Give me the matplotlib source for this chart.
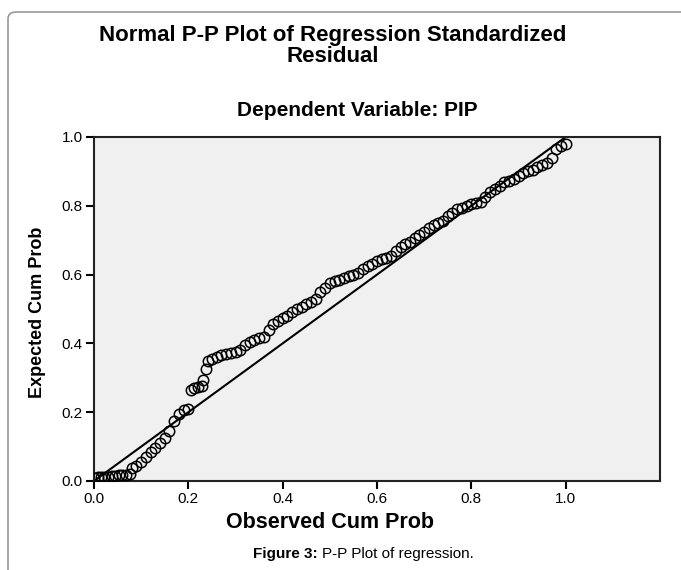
import matplotlib.pyplot as plt
from matplotlib.patches import FancyBboxPatch

# observed vs expected cumulative probability
observed = [0.000, 0.008, 0.015, 0.022, 0.030, 0.038, 0.045, 0.053, 0.060, 0.068,
            0.077, 0.080, 0.090, 0.100, 0.110, 0.120, 0.130, 0.140, 0.150, 0.160,
            0.170, 0.180, 0.190, 0.200, 0.205, 0.212, 0.220, 0.228, 0.232, 0.237,
            0.242, 0.250, 0.260, 0.270, 0.280, 0.290, 0.300, 0.310, 0.320, 0.330,
            0.340, 0.350, 0.360, 0.370, 0.380, 0.390, 0.400, 0.410, 0.420, 0.430,
            0.440, 0.450, 0.460, 0.470, 0.480, 0.490, 0.500, 0.510, 0.520, 0.530,
            0.540, 0.550, 0.560, 0.570, 0.580, 0.590, 0.600, 0.610, 0.620, 0.630,
            0.640, 0.650, 0.660, 0.670, 0.680, 0.690, 0.700, 0.710, 0.720, 0.730,
            0.740, 0.750, 0.760, 0.770, 0.780, 0.790, 0.800, 0.810, 0.820, 0.830,
            0.840, 0.850, 0.860, 0.870, 0.880, 0.890, 0.900, 0.910, 0.920, 0.930,
            0.940, 0.950, 0.960, 0.970, 0.980, 0.990, 1.000]
expected = [0.010, 0.011, 0.012, 0.013, 0.013, 0.014, 0.015, 0.016, 0.017, 0.018,
            0.020, 0.038, 0.045, 0.055, 0.070, 0.085, 0.095, 0.110, 0.125, 0.145,
            0.175, 0.195, 0.205, 0.210, 0.265, 0.270, 0.272, 0.275, 0.293, 0.325,
            0.350, 0.355, 0.360, 0.365, 0.370, 0.372, 0.375, 0.380, 0.395, 0.405,
            0.410, 0.415, 0.420, 0.440, 0.455, 0.465, 0.475, 0.480, 0.490, 0.500,
            0.505, 0.515, 0.520, 0.530, 0.550, 0.560, 0.575, 0.580, 0.585, 0.590,
            0.595, 0.600, 0.605, 0.615, 0.625, 0.630, 0.640, 0.645, 0.648, 0.655,
            0.668, 0.680, 0.690, 0.695, 0.705, 0.715, 0.725, 0.735, 0.745, 0.750,
            0.755, 0.770, 0.780, 0.790, 0.795, 0.800, 0.805, 0.808, 0.812, 0.825,
            0.840, 0.850, 0.858, 0.868, 0.872, 0.878, 0.888, 0.895, 0.900, 0.905,
            0.912, 0.920, 0.925, 0.940, 0.965, 0.975, 0.980]
ticks = [0.0, 0.2, 0.4, 0.6, 0.8, 1.0]
tick_labels = ["0.0", "0.2", "0.4", "0.6", "0.8", "1.0"]

plt.rcParams["font.family"] = ["Liberation Sans", "DejaVu Sans"]
narrow = ["Liberation Sans Narrow", "Liberation Sans", "DejaVu Sans"]

fig = plt.figure(figsize=(6.81, 5.70), dpi=100)

# rounded grey frame around the figure panel
frame = FancyBboxPatch((8 / 681, -0.05), 1.2, 1.05 - 12 / 570,
                       boxstyle="round,pad=0,rounding_size=0.012",
                       transform=fig.transFigure, fill=False,
                       edgecolor="#9a9a9a", linewidth=1.2)
fig.patches.append(frame)

ax = fig.add_axes([94 / 681, 89 / 570, 566 / 681, 344 / 570])
ax.set_facecolor("#f0f0f0")

ax.plot([0, 1], [0, 1], color="black", linewidth=1.5, zorder=2)
ax.plot(observed, expected, linestyle="none", marker="o", markersize=7.5,
        markerfacecolor="none", markeredgecolor="black", markeredgewidth=1.1,
        zorder=3)

ax.set_xlim(0, 1.2)
ax.set_ylim(0, 1.0)
ax.set_xticks(ticks)
ax.set_xticklabels(tick_labels)
ax.set_yticks(ticks)
ax.set_yticklabels(tick_labels)
ax.tick_params(direction="out", length=6, width=1.5, labelsize=11, pad=2)
for s in ax.spines.values():
    s.set_linewidth(1.5)
    s.set_color("#222222")

fig.text(333 / 681, 1 - 35 / 570, "Normal P-P Plot of Regression Standardized",
         ha="center", va="center", fontsize=16, fontweight="bold")
fig.text(333 / 681, 1 - 57 / 570, "Residual",
         ha="center", va="center", fontsize=16, fontweight="bold")
fig.text(357 / 681, 1 - 111 / 570, "Dependent Variable: PIP",
         ha="center", va="center", fontsize=15, fontweight="bold")

fig.text(38 / 681, 1 - 312 / 570, "Expected Cum Prob", rotation=90,
         ha="center", va="center", fontsize=13, fontweight="bold",
         family=narrow)
fig.text(330 / 681, 1 - 523 / 570, "Observed Cum Prob",
         ha="center", va="center", fontsize=15.5, fontweight="bold")

cap1 = fig.text(253 / 681, 1 - 554 / 570, "Figure 3:", ha="left", va="center",
                fontsize=11, fontweight="bold", family=narrow)
fig.canvas.draw()
bb = cap1.get_window_extent()
fig.text(bb.x1 / fig.bbox.width + 4 / 681, 1 - 554 / 570, "P-P Plot of regression.",
         ha="left", va="center", fontsize=11, family=narrow)

fig.savefig("out.png", dpi=100)
